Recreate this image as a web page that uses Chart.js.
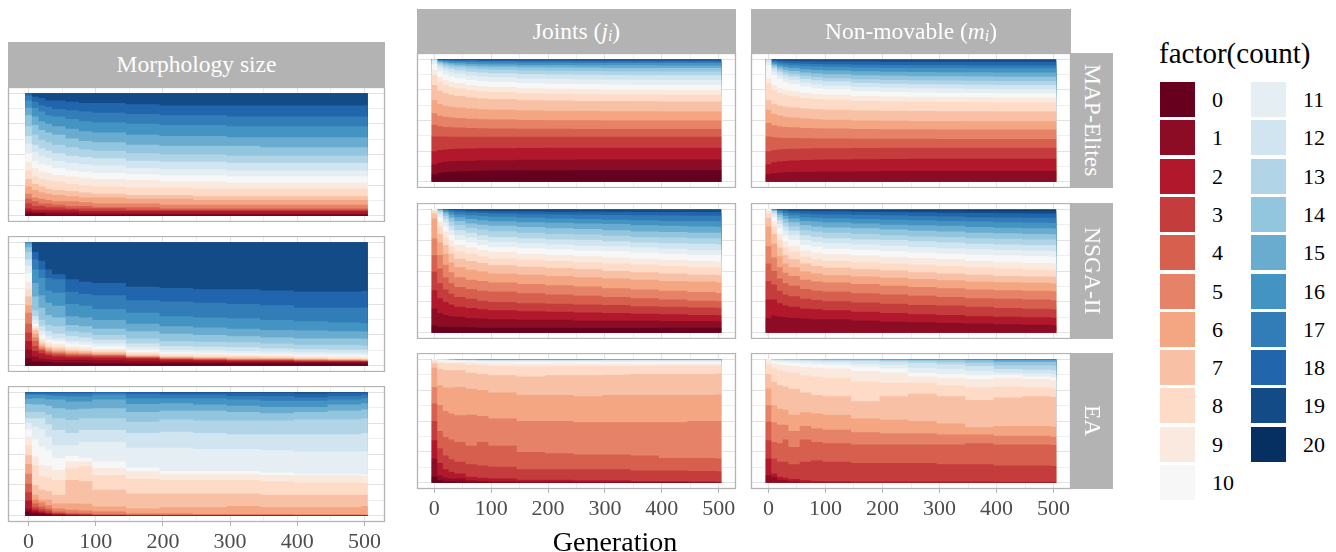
<!DOCTYPE html>
<html>
<head>
<meta charset="utf-8">
<script src="https://cdn.jsdelivr.net/npm/chart.js@4.4.1/dist/chart.umd.min.js"></script>
<style>
  html, body { margin: 0; padding: 0; background: #ffffff; }
  body { position: relative; width: 1336px; height: 552px; overflow: hidden; font-family: "Liberation Serif", "DejaVu Serif", serif; }
  canvas { position: absolute; }
  .strip { position: absolute; background: #B3B3B3; color: #ffffff; font-family: "Liberation Serif", serif; font-size: 23.5px; display: flex; align-items: center; justify-content: center; white-space: pre; }
  .vstrip { writing-mode: vertical-rl; }
  .strip .mi { font-style: italic; }
  .strip .sb { font-style: italic; font-size: 0.68em; position: relative; top: 0.32em; }
  .legend-title { position: absolute; left: 1159px; top: 36px; font-family: "Liberation Serif", serif; font-size: 29px; line-height: 34px; color: #000; white-space: nowrap; }
  .key { position: absolute; width: 35px; height: 35px; }
  .key-label { position: absolute; font-family: "Liberation Serif", serif; font-size: 22px; line-height: 35px; height: 35px; color: #000; }
  .axis-title { position: absolute; left: 515px; width: 200px; top: 525px; text-align: center; font-family: "Liberation Serif", serif; font-size: 28px; line-height: 34px; color: #000; }
</style>
</head>
<body>
<script>
// ---------------- data ----------------
// generations at which the population composition was read (one bar = 10 generations)
const generations = [0, 10, 20, 30, 40, 60, 80, 100, 150, 200, 250, 300, 350, 400, 450, 500];
const countLevels = [0,1,2,3,4,5,6,7,8,9,10,11,12,13,14,15,16,17,18,19,20];
const countColors = ['#67001F','#8C0C25','#B2182B','#C43C3C','#D6604D','#E58267','#F4A582','#F8C0A4','#FDDBC7','#FAE9DF','#F7F7F7','#E4EEF3','#D1E5F0','#B1D5E7','#92C5DE','#6AACD0','#4393C3','#327CB7','#2166AC','#134B86','#053061'];
const xTickLabels = [0, 100, 200, 300, 400, 500];
const rowLabels = ['MAP-Elites', 'NSGA-II', 'EA'];
const totalShare = 100;

// cumulative share (%) of the population with count <= k ; row k = 0..19, columns follow `generations`
const morphologyMapElites = [
  [2,2,2,1,1,1,1,1,1,1,1,1,1,1,1,1],
  [4,3,3,3,3,3,2,2,2,2,2,2,2,2,2,2],
  [6,5,5,5,5,5,4,4,4,4,4,4,4,4,4,4],
  [10,8,8,7,7,6,6,6,5,5,5,5,5,5,5,5],
  [14,12,10,10,9,8,8,7,7,6,6,6,6,6,6,6],
  [18,15,14,13,12,12,11,10,10,9,9,9,9,9,9,9],
  [24,21,19,18,17,16,15,15,14,14,13,13,13,13,13,13],
  [30,26,24,22,21,20,19,18,17,17,16,16,16,16,16,16],
  [37,32,30,29,28,26,25,24,23,23,22,22,22,22,22,22],
  [44,39,36,35,33,32,31,30,29,28,28,27,27,27,27,27],
  [51,45,42,41,39,37,36,35,34,33,33,32,32,32,32,32],
  [59,52,49,47,45,43,42,41,39,38,38,37,37,37,37,37],
  [65,58,55,53,51,49,48,47,45,44,44,43,43,43,43,43],
  [73,66,62,60,58,56,54,53,51,50,50,49,49,49,49,49],
  [82,74,70,68,66,63,61,60,58,57,57,57,56,56,56,56],
  [88,81,77,75,73,71,69,68,66,65,65,64,64,64,64,64],
  [94,88,85,82,81,79,77,76,75,74,74,73,73,73,73,73],
  [98,93,90,89,87,86,85,84,83,82,82,81,81,81,81,81],
  [100,97,96,94,94,93,92,92,91,90,90,90,90,90,90,90],
  [100,100,100,100,100,100,100,100,100,100,100,100,100,100,100,100]
];
const morphologyNsga = [
  [6,3.5,3.5,3,2.5,2.5,2.5,2,2,2,2,2,2,2,2,1.6],
  [13,7.5,6,5.4,5,5,5,4.5,4,3.5,3.5,3,3,3,3,3],
  [20,12,10,8.6,7.5,7,7,6.5,6,5,4.5,4,4,3.5,3.5,3.5],
  [27,16,12.4,10,9.2,8.4,8.2,7.8,6.5,5.5,5,4.5,4.5,4,4,3.8],
  [34,20,13.5,11.3,10.2,9.2,9,8.5,7,6,5.5,5,5,4.5,4.2,4],
  [43,23,15,12.4,11.3,10.2,9.7,9,7.5,6.5,6,5.5,5.5,5,4.6,4.3],
  [49,26,16.5,14,12.4,11.3,10.8,10,8,7,6.5,6,6,5.5,5.1,5],
  [56,29,18,15,14,12.4,12,11,9,7.5,7,7,6.5,6,5.6,5.4],
  [62,30.5,20.5,17,15.6,14,13.5,12.4,10,8.5,8,8,7.5,7,6.5,6.2],
  [68,32,22,19,17.5,15.6,15,13.7,11.3,10,9.5,9,8.5,8,7.5,7.3],
  [75,34,25,21,20,18,17,15.6,13,11,10.5,10,9.5,9,9,8.6],
  [81,37,28,24,22,20,19.4,18,15,13,12.5,12,11.5,11,10.5,10.5],
  [86,40,32,28,26,24,23,21,18,16,15.5,15,14,13.5,13,13],
  [92,45,37,33,32,28,27,25,22,20,19.5,19,18,17,17,16.4],
  [96,56,47,41,39,33,32,30,28,26,25,24,23,22,22,21.8],
  [99,67,57,51,48.5,40,39,37,34,32,31,30,29,28.5,28,27.8],
  [100,78,71,61,59,50,48.5,46,43,40,39,38.5,37,36,35,34.5],
  [100,86,78,71,70,60,58,57,53,52,51,50,49,47,47,47],
  [100,92,85,78,74,70,68,67,64,63,62,62,61,60,60,60.6],
  [100,100,100,100,100,100,100,100,100,100,100,100,100,100,100,100]
];
const morphologyEa = [
  [3.5,2,1.5,1,0.5,0.3,0.3,0.2,0.2,0.2,0.2,0.2,0.2,0.2,0.2,0.2],
  [6,3.5,2.5,1.5,1,0.6,0.5,0.4,0.3,0.3,0.3,0.3,0.3,0.3,0.3,0.3],
  [12.4,5,3.5,2.5,1.5,1,0.8,0.6,0.5,0.5,0.5,0.5,0.5,0.4,0.4,0.4],
  [19,7,5.5,4,2.2,1.5,1.2,0.8,0.7,0.6,0.6,0.6,0.6,0.5,0.5,0.5],
  [26,10,7.5,6,3.5,2.5,2,1,1,0.8,0.8,0.8,0.8,0.7,0.7,0.6],
  [34,13,11,8.5,6,5,4.3,3.5,2,2,1.5,1.5,1.5,1.3,1.2,1],
  [42,17,13,13,10,10,9.7,7.5,6,7,7,8,7,7,7,8],
  [49,25,21,20,17,29,28,21,18,18,18,18,17,17,17,17],
  [57,41,32,31,29,38.5,40,33,30,29,29,29,28,27,27,26.6],
  [64,48,41,40,37,44,44,38.5,36,34,34,34,33,33,33,32.6],
  [70,62,56,53,46.6,48.5,47,44,39,36,36,36,35,34,34,33.7],
  [75,72,70,64,57,57,60,60,55,55,54,54,53,52,52,52],
  [79,79,79,74,69.5,67,69.5,69.5,67,68,67,66,66,66,66,67],
  [84,84,84,82,79,77.6,79,79,76,78,77,77,77,78,78,79],
  [90.5,90,90,89,87,86,86.5,87,84,85,85,84,83,84,85,86],
  [94.6,95,95,94,94,92.5,92.5,94,90.5,91,90,89,88,88,90,91],
  [98,98,98,97.5,97,96.5,96.5,98,95,95,95,94,93,93,94,95],
  [99,99,99,99,99,99,99,99.5,98.6,98,98,97,97,96,97,98],
  [100,100,100,100,100,100,100,100,100,99.5,99.5,99.5,99.5,99,99.5,99.7],
  [100,100,100,100,100,100,100,100,100,100,100,100,100,100,100,100]
];
const jointsMapElites = [
  [6.2,7.4,8,8.3,8.5,8.9,9.1,9.2,9.4,9.5,9.6,9.6,9.7,9.7,9.7,9.7],
  [14.3,15.7,16.3,16.7,17,17.3,17.6,17.7,18,18.1,18.2,18.2,18.3,18.3,18.3,18.3],
  [25,26,26.4,26.7,26.9,27.1,27.3,27.4,27.6,27.7,27.7,27.7,27.8,27.8,27.8,27.8],
  [37,36.9,36.9,36.8,36.8,36.8,36.8,36.7,36.7,36.7,36.7,36.7,36.7,36.7,36.7,36.7],
  [46.6,45.3,44.8,44.4,44.2,43.9,43.6,43.5,43.3,43.2,43.1,43.1,43,43,43,43],
  [56,53.9,53,52.4,52,51.4,51.1,50.8,50.5,50.3,50.2,50.1,50.1,50,50,50],
  [66.8,63.5,62.1,61.2,60.5,59.7,59.1,58.7,58.2,57.9,57.7,57.6,57.5,57.4,57.4,57.4],
  [79,74.3,72.3,70.9,70,68.7,67.9,67.4,66.6,66.2,65.9,65.8,65.6,65.5,65.5,65.5],
  [87,81.4,79,77.3,76.2,74.8,73.8,73.2,72.2,71.7,71.4,71.2,71.1,70.9,70.9,70.9],
  [91,85.4,83,81.4,80.3,78.8,77.9,77.2,76.3,75.8,75.5,75.3,75.2,75,75,75],
  [96,90.1,87.5,85.8,84.6,83.1,82.1,81.4,80.4,79.9,79.5,79.3,79.2,79,79,79],
  [98.4,93,90.7,89.2,88.1,86.7,85.8,85.2,84.2,83.8,83.5,83.3,83.2,83,83,83],
  [99.5,95.1,93.2,91.9,91,89.8,89.1,88.6,87.8,87.4,87.2,87.1,86.9,86.8,86.8,86.8],
  [100,96.5,95,94,93.3,92.4,91.8,91.4,90.8,90.5,90.3,90.2,90.1,90,90,90],
  [100,97.4,96.4,95.6,95.1,94.5,94,93.7,93.3,93.1,92.9,92.8,92.8,92.7,92.7,92.7],
  [100,98.2,97.5,96.9,96.6,96.1,95.8,95.6,95.3,95.2,95.1,95,95,94.9,94.9,94.9],
  [100,98.9,98.4,98.1,97.9,97.6,97.4,97.2,97.1,97,96.9,96.9,96.8,96.8,96.8,96.8],
  [100,99.3,99.1,98.9,98.7,98.6,98.4,98.4,98.3,98.2,98.2,98.1,98.1,98.1,98.1,98.1],
  [100,99.6,99.5,99.3,99.3,99.2,99.1,99.1,99,99,98.9,98.9,98.9,98.9,98.9,98.9],
  [100,99.9,99.8,99.8,99.7,99.7,99.7,99.7,99.6,99.6,99.6,99.6,99.6,99.6,99.6,99.6]
];
const jointsNsga = [
  [6.2,5,5,5,5,4.5,4,4,4,4,4,4,4,4,4,4],
  [19.7,16,14.5,13.5,13,12,11.5,11,10.5,10.5,10,10,10,9.5,9.5,9.4],
  [34.5,28,25,23,21,20,19,18.3,17.5,17,16.5,16,15.5,15,14.5,14.3],
  [49.3,40,35,31.5,29,27.5,26,25,24,23.5,23,22.5,21.5,21,20.5,20.2],
  [62.8,52,45,40,37,35.5,34,33.2,32,31,30,29,28,27,26,25.6],
  [76.3,63,55,49,45,43,42,40.7,39.5,38.5,37.5,36,35,34,33,32.3],
  [92.5,73,64,57,53,51,49.5,48,47,46,45,44,43,42,41.5,40.7],
  [96.5,80,71,64,60,58,56.5,54.7,53.5,52.5,51.5,50,49,48,47,46.6],
  [98.6,86,77,70,66,64,62,60.1,59,58,57,56,55,54,53,52.6],
  [99.5,90,82,75,71,69,67,65.5,64,63,62,61,60,59,58,57.4],
  [100,93.5,86,79,75,73,71,69.5,68.5,67.5,66.5,66,65,64,63,62.8],
  [100,96,89.5,83,79,77,75,73.6,72.5,71.5,70.5,70,69,68,67,66.8],
  [100,97.5,92,86.5,83,81,79,77.6,76.5,75.5,75,74,73,72.5,72,71.4],
  [100,98.5,94.5,90,87,85,83.5,82.2,81,80,79.5,78.5,77.5,77,76.5,76.3],
  [100,99.3,96.5,93,90.5,88.5,87.5,86.5,85.5,84.5,84,83,82,81.5,81,80.9],
  [100,99.7,98,95.5,93.5,92,91,90.3,89.5,89,88.5,88,87,86.5,86,85.7],
  [100,100,99,97.5,96,95,94.5,93.8,93,92.5,92,91.5,91,90.5,90.5,90.3],
  [100,100,99.6,98.8,98,97.3,97,96.5,96,95.7,95.5,95.2,95,94.8,94.7,94.6],
  [100,100,100,99.6,99.3,98.8,98.6,98.4,98.2,98,98,97.9,97.8,97.8,97.8,97.8],
  [100,100,100,100,100,99.8,99.8,99.8,99.7,99.7,99.6,99.6,99.5,99.5,99.5,99.5]
];
const jointsEa = [
  [4.9,2,1.2,1,0.8,0.5,0.4,0.3,0.3,0.3,0.3,0.3,0.3,0.2,0.2,0.2],
  [19.7,6,4,3.5,3.5,2,1.5,1.2,1,1,0.8,0.8,0.7,0.6,0.5,0.5],
  [34.5,16,11,9,7.5,5,4,3.5,2.5,2.5,2,2,1.5,1.2,1,0.8],
  [49.9,28,22,19,17,15,14,13,11,11,11,11,10,10,9.5,9.4],
  [64.2,42,37,35,33,30,33,30,25,24,23,23,22,20,20,19.7],
  [77.6,63,58,56,54.7,55,54,52,50,50,49,49,49,49,50,49.9],
  [93,79,77,77,77.6,76,75,73,71,71,70,71,71,71,71,71.4],
  [96.5,92,91,91,91,89,88,87,86,87,87,87.5,88,88,88,88.4],
  [98.6,97,96.5,96.5,96.5,95.5,95,94.5,94,94.5,94.5,94.5,94.5,94.6,94.6,94.6],
  [99.5,98.5,98,97.8,97.8,97.5,97,96.5,96.3,96.5,96.3,96.3,96.2,96.2,96.2,96.2],
  [100,99.3,99,98.7,98.5,98.3,98,97.8,97.7,97.8,97.8,97.8,97.8,97.8,97.8,97.8],
  [100,99.7,99.5,99.3,99.2,99,98.8,98.7,98.7,98.8,98.8,98.9,98.9,98.9,98.9,98.9],
  [100,100,99.7,99.5,99.4,99.3,99.2,99.2,99.1,99.2,99.2,99.2,99.2,99.2,99.2,99.2],
  [100,100,99.8,99.6,99.5,99.5,99.4,99.4,99.4,99.4,99.4,99.5,99.5,99.5,99.5,99.5],
  [100,100,100,99.7,99.6,99.6,99.6,99.6,99.6,99.6,99.6,99.6,99.6,99.6,99.6,99.6],
  [100,100,100,99.8,99.7,99.7,99.7,99.7,99.7,99.7,99.7,99.7,99.7,99.7,99.7,99.7],
  [100,100,100,100,99.8,99.8,99.8,99.8,99.8,99.8,99.8,99.8,99.8,99.8,99.8,99.9],
  [100,100,100,100,100,100,100,100,100,100,100,100,100,100,100,100],
  [100,100,100,100,100,100,100,100,100,100,100,100,100,100,100,100],
  [100,100,100,100,100,100,100,100,100,100,100,100,100,100,100,100]
];
const nonMovableMapElites = [
  [0,0,0,0,0,0,0,0,0,0,0,0,0,0,0,0],
  [6.2,7.1,7.6,7.8,8,8.3,8.4,8.5,8.7,8.8,8.8,8.8,8.9,8.9,8.9,8.9],
  [14.3,15.9,16.6,17.1,17.4,17.8,18.1,18.3,18.5,18.7,18.8,18.8,18.9,18.9,18.9,18.9],
  [25,26,26.4,26.7,26.9,27.1,27.3,27.4,27.6,27.7,27.7,27.7,27.8,27.8,27.8,27.8],
  [37,36.3,36,35.8,35.7,35.5,35.4,35.3,35.2,35.1,35.1,35,35,35,35,35],
  [48,46.1,45.3,44.8,44.4,43.9,43.6,43.4,43,42.9,42.8,42.7,42.7,42.6,42.6,42.6],
  [58.8,55.5,54.1,53.1,52.4,51.6,51,50.6,50.1,49.8,49.6,49.5,49.4,49.3,49.3,49.3],
  [66.8,63.5,62.1,61.2,60.5,59.7,59.1,58.7,58.2,57.9,57.7,57.6,57.5,57.4,57.4,57.4],
  [80.3,74.8,72.5,70.9,69.8,68.4,67.5,66.9,65.9,65.5,65.2,65,64.9,64.7,64.7,64.7],
  [84.4,78.9,76.6,75,73.9,72.5,71.5,70.9,70,69.5,69.2,69,68.9,68.7,68.7,68.7],
  [95,87,83.6,81.3,79.7,77.7,76.3,75.4,74,73.3,72.9,72.7,72.4,72.2,72.2,72.2],
  [97.8,90,86.7,84.4,82.9,80.9,79.5,78.6,77.3,76.6,76.2,76,75.7,75.5,75.5,75.5],
  [99.5,92.3,89.3,87.2,85.8,83.9,82.7,81.9,80.6,80,79.6,79.4,79.2,79,79,79],
  [100,93.8,91.1,89.3,88.1,86.5,85.4,84.7,83.6,83.1,82.7,82.6,82.4,82.2,82.2,82.2],
  [100,95,92.9,91.4,90.4,89.1,88.3,87.7,86.8,86.4,86.1,86,85.9,85.7,85.7,85.7],
  [100,96.2,94.6,93.5,92.8,91.8,91.1,90.7,90.1,89.7,89.5,89.4,89.3,89.2,89.2,89.2],
  [100,97.4,96.3,95.5,95,94.3,93.9,93.6,93.1,92.9,92.7,92.7,92.6,92.5,92.5,92.5],
  [100,98.3,97.6,97.1,96.7,96.3,96,95.8,95.5,95.3,95.2,95.2,95.1,95.1,95.1,95.1],
  [100,99.2,98.9,98.7,98.5,98.3,98.2,98.1,98,97.9,97.9,97.8,97.8,97.8,97.8,97.8],
  [100,99.7,99.6,99.5,99.5,99.4,99.3,99.3,99.3,99.2,99.2,99.2,99.2,99.2,99.2,99.2]
];
const nonMovableNsga = [
  [0,0,0,0,0,0,0,0,0,0,0,0,0,0,0,0],
  [12,14,13,12.5,12,11.5,11,11,10,9,8.5,8,7.5,7,6.5,6.2],
  [27,27,24,22,21,19.5,19,18.3,17,16,15,14.5,13.5,13,12.5,12.1],
  [42,39,34,31,29.5,27.5,26.5,25.6,24.5,23.5,22.5,22,21,20,19.5,19.1],
  [56,50,44,40,38,35.5,34,33.2,32,31,30,29,28,27.5,27,26.4],
  [70,61,53,48.5,46,43,41.5,40.7,39.5,38,37,36,35,34.5,34,33.7],
  [86,72,62,56,53,49.5,48,46.6,45.5,44.5,43.5,42.5,41.5,41,40.5,39.9],
  [93,80,69,63,59.5,56,54,52.6,51.5,50.5,49,48,47,46,45.5,45.3],
  [97,86,75,69,65.5,61.5,59.5,58,57,56,55,54,53,52,51,50.7],
  [99,90,80,74,70.5,66.5,65,63.6,62.5,61.5,60.5,59.5,58,57,56.5,56.1],
  [100,93.5,84.5,78.5,75,71,69.5,67.9,67,66,65,64,63,62.5,62,61.5],
  [100,96,88,82.5,79,75,73.5,72.5,71.5,70.5,69.5,68.5,67.5,67,66.5,66],
  [100,97.5,91,86,82.5,79,77.5,76.5,75.5,75,74,73,72,71.5,71,70.9],
  [100,98.5,93.5,89,86,83,82,81,80,79,78,77.5,76.5,76,75.5,75.5],
  [100,99.2,95.5,92,89.5,87,86,85.2,84.5,83.5,82.5,82,81,80.5,80,79.8],
  [100,99.6,97.2,94.5,92.5,90.5,90,89.2,88.5,87.5,87,86.5,85.5,85,84.5,84.4],
  [100,99.8,98.5,96.5,95,93.5,93,92.7,92,91.5,91,90.5,90,89.5,89,88.9],
  [100,100,99.3,98.2,97.2,96.3,96,95.7,95.3,95,94.5,94,93.5,93.3,93,93],
  [100,100,99.8,99.3,98.8,98.5,98.4,98.4,98,97.8,97.5,97.2,97,96.8,96.5,96.5],
  [100,100,100,99.8,99.7,99.6,99.5,99.5,99.4,99.3,99.2,99.1,99,99,98.9,98.9]
];
const nonMovableEa = [
  [0,0,0,0,0,0,0,0,0,0,0,0,0,0,0,0],
  [6.2,4.9,2.5,2,1,0.5,0.5,0.4,0.3,0.3,0.3,0.3,0.3,0.3,0.3,0.3],
  [19.7,7.5,5,4,3,2,1.5,1.2,1,1,1,1,1,0.9,0.8,0.8],
  [34.5,19.7,17,17,15,17,18,17,16,16,16,15,15,14,14,13.7],
  [49.3,33,32,35,29,35,33,32,31,31,31,31,32,31,31,30.5],
  [62.8,49,47,47,42,46,44,43,41,40,40,39,39,38,38,37.2],
  [76.3,62.8,60,59,55,57,56,55,52,51,50,48,45,46,46,45.3],
  [88,81.7,79,78,76,73,71,70,66,70,72,70,67,69,70,69.5],
  [96,92.5,91,90,89,87,86,85,82,81,81,79,77,78,77,76.3],
  [99,96.5,95.5,95,94.5,93.5,93,92.5,90.5,89,86,85,84,85,84,83],
  [100,98.4,97.8,97.5,97.2,96.5,96,95.5,94,92.5,89,88,87,87,86,85.2],
  [100,99.2,99,98.8,98.6,98.3,98,97.5,96.5,95.5,93,92,90.5,89,88.5,87.6],
  [100,99.6,99.5,99.4,99.3,99.2,99,98.8,98.5,98,97,96,94.5,92,91.5,91.1],
  [100,99.8,99.8,99.7,99.7,99.6,99.5,99.4,99.3,99,98.5,98,97,95,95,94.6],
  [100,100,100,100,100,99.8,99.7,99.7,99.7,99.6,99.4,99.3,99,97.8,97.8,97.8],
  [100,100,100,100,100,100,99.9,99.9,99.9,99.8,99.8,99.7,99.6,99.2,99.2,99.2],
  [100,100,100,100,100,100,100,100,100,99.9,99.9,99.9,99.8,99.8,99.7,99.7],
  [100,100,100,100,100,100,100,100,100,100,100,100,100,100,100,100],
  [100,100,100,100,100,100,100,100,100,100,100,100,100,100,100,100],
  [100,100,100,100,100,100,100,100,100,100,100,100,100,100,100,100]
];

// ---------------- layout ----------------
const FONT = '"Liberation Serif", serif';
const halfBin = 5;           // each bar covers generation g-5 .. g+5
const xMin = -30.5, xMax = 530.5;
const yMin = -5, yMax = 105;
const xGridValues = [0,50,100,150,200,250,300,350,400,450,500];
const yGridValues = [0,12.5,25,37.5,50,62.5,75,87.5,100];
const PADX = 24;
const AXIS_H = 46;

const panels = [
  { rows: morphologyMapElites, left: 8,   top: 87,  width: 377, height: 135, axis: false },
  { rows: morphologyNsga,      left: 8,   top: 236, width: 377, height: 136, axis: false },
  { rows: morphologyEa,        left: 8,   top: 386, width: 377, height: 136, axis: true  },
  { rows: jointsMapElites,     left: 417, top: 53,  width: 319, height: 135, axis: false },
  { rows: jointsNsga,          left: 417, top: 203, width: 319, height: 136, axis: false },
  { rows: jointsEa,            left: 417, top: 353, width: 319, height: 136, axis: true  },
  { rows: nonMovableMapElites, left: 751, top: 53,  width: 320, height: 135, axis: false },
  { rows: nonMovableNsga,      left: 751, top: 203, width: 320, height: 136, axis: false },
  { rows: nonMovableEa,        left: 751, top: 353, width: 320, height: 136, axis: true  }
];

const panelBorder = {
  id: 'panelBorder',
  afterDraw(chart) {
    const { ctx, chartArea: a } = chart;
    ctx.save();
    ctx.strokeStyle = '#B3B3B3';
    ctx.lineWidth = 1.3;
    ctx.strokeRect(a.left + 0.5, a.top + 0.5, a.width - 1, a.height - 1);
    ctx.restore();
  }
};

function buildDatasets(rows) {
  const last = generations.length - 1;
  return countLevels.map((level, k) => {
    const values = k < rows.length ? rows[k] : generations.map(() => totalShare);
    const pts = generations.map((g, i) => ({ x: g - halfBin, y: values[i] }));
    pts.push({ x: generations[last] + halfBin, y: values[last] });
    return {
      label: String(level),
      data: pts,
      fill: 'origin',
      backgroundColor: countColors[k],
      borderColor: 'rgba(0,0,0,0)',
      borderWidth: 0,
      pointRadius: 0,
      stepped: 'before',
      tension: 0
    };
  });
}

panels.forEach((p) => {
  const cv = document.createElement('canvas');
  const w = p.width + 2 * PADX;
  const h = p.height + (p.axis ? AXIS_H : 0);
  cv.width = w; cv.height = h;
  cv.style.left = (p.left - PADX) + 'px';
  cv.style.top = p.top + 'px';
  cv.style.width = w + 'px';
  cv.style.height = h + 'px';
  document.body.appendChild(cv);

  new Chart(cv, {
    type: 'line',
    data: { datasets: buildDatasets(p.rows) },
    options: {
      responsive: false,
      animation: false,
      devicePixelRatio: 1,
      events: [],
      layout: { padding: { left: PADX, right: PADX, top: 0, bottom: 0 } },
      plugins: { legend: { display: false }, tooltip: { enabled: false }, title: { display: false } },
      scales: {
        x: {
          type: 'linear', min: xMin, max: xMax,
          afterBuildTicks: (s) => { s.ticks = xGridValues.map(v => ({ value: v })); },
          afterFit: (s) => { s.height = p.axis ? AXIS_H : 0; },
          border: { display: false },
          grid: {
            color: (c) => (c.tick && xTickLabels.includes(c.tick.value)) ? '#E2E2E2' : '#EEEEEE',
            lineWidth: 1,
            drawTicks: p.axis,
            tickLength: 4,
            tickColor: (c) => (c.tick && xTickLabels.includes(c.tick.value)) ? '#B3B3B3' : 'rgba(0,0,0,0)'
          },
          ticks: {
            display: p.axis, autoSkip: false, maxRotation: 0, minRotation: 0, padding: 3,
            color: '#4D4D4D', font: { family: FONT, size: 22, lineHeight: 1.2 },
            callback: (v) => xTickLabels.includes(v) ? String(v) : ''
          }
        },
        y: {
          type: 'linear', min: yMin, max: yMax,
          afterBuildTicks: (s) => { s.ticks = yGridValues.map(v => ({ value: v })); },
          afterFit: (s) => { s.width = 0; },
          border: { display: false },
          grid: {
            color: (c) => (c.tick && c.tick.value % 25 === 0) ? '#E2E2E2' : '#EEEEEE',
            lineWidth: 1, drawTicks: false
          },
          ticks: { display: false }
        }
      }
    },
    plugins: [panelBorder]
  });
});

// ---------------- strips, legend, axis title (HTML text) ----------------
function addDiv(cls, style, html) {
  const d = document.createElement('div');
  d.className = cls;
  d.setAttribute('style', style);
  d.innerHTML = html;
  document.body.appendChild(d);
  return d;
}
addDiv('strip', 'left:8px;top:42px;width:377px;height:45px;', 'Morphology size');
addDiv('strip', 'left:417px;top:9px;width:319px;height:44px;', 'Joints (<span class="mi">j</span><span class="sb">i</span>)');
addDiv('strip', 'left:751px;top:9px;width:320px;height:44px;', 'Non-movable (<span class="mi">m</span><span class="sb">i</span>)');
const rowStrips = [{ top: 53, h: 135 }, { top: 203, h: 136 }, { top: 353, h: 136 }];
rowLabels.forEach((lab, i) => {
  addDiv('strip vstrip', `left:1071px;top:${rowStrips[i].top}px;width:42px;height:${rowStrips[i].h}px;`, lab);
});

addDiv('axis-title', '', 'Generation');
addDiv('legend-title', '', 'factor(count)');
countLevels.forEach((level, k) => {
  const col = k < 11 ? 0 : 1;
  const row = k < 11 ? k : k - 11;
  const keyLeft = col === 0 ? 1160 : 1251;
  const labLeft = col === 0 ? 1212 : 1303;
  const top = 82 + row * 38.3;
  addDiv('key', `left:${keyLeft}px;top:${top}px;background:${countColors[k]};`, '');
  addDiv('key-label', `left:${labLeft}px;top:${top}px;`, String(level));
});
</script>
</body>
</html>
